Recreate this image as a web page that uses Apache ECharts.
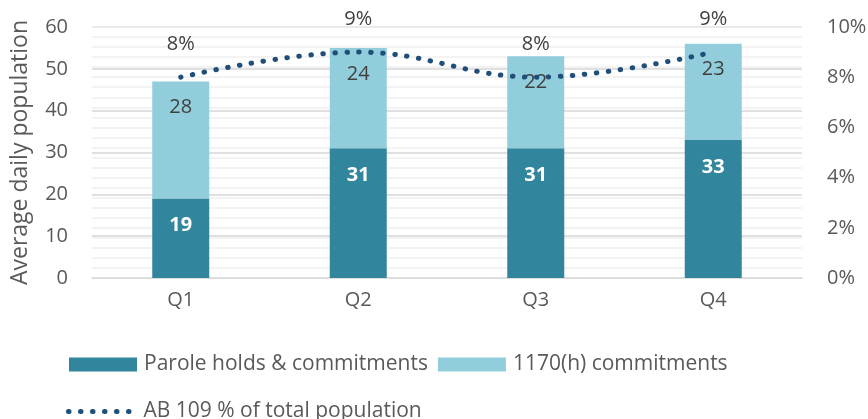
<!DOCTYPE html>
<html>
<head>
<meta charset="utf-8">
<script src="https://cdn.jsdelivr.net/npm/echarts@6/dist/echarts.min.js"></script>
<style>
  html, body { margin: 0; padding: 0; background: #fff; }
  #chart { width: 868px; height: 419px; }
</style>
</head>
<body>
<div id="chart"></div>
<script>
// Quarterly average daily population, stacked by commitment type
const quarters = ['Q1', 'Q2', 'Q3', 'Q4'];
const paroleHolds = [19, 31, 31, 33];
const commitments1170h = [28, 24, 22, 23];
// AB 109 share of total population, in percent
const ab109Share = [8, 9, 8, 9];

const FONT = '"Open Sans", "Liberation Sans", sans-serif';
const TEXT = '#595959';
const LINE_COLOR = '#1F4E79';
const DOTS = { color: LINE_COLOR, width: 5, type: [0.5, 11.5], cap: 'round' };

const chart = echarts.init(document.getElementById('chart'), null, { renderer: 'canvas' });

chart.setOption({
  animation: false,
  textStyle: { fontFamily: FONT },
  grid: { left: 92, right: 66, top: 27, bottom: 141, containLabel: false, outerBoundsMode: 'none' },
  legend: [
    {
      data: ['Parole holds & commitments', '1170(h) commitments'],
      left: 69, top: 354, padding: 0,
      itemWidth: 68, itemHeight: 14, itemGap: 10,
      icon: 'rect',
      textStyle: { color: TEXT, fontSize: 21, fontFamily: FONT, padding: [0, 0, 0, 2] }
    },
    {
      data: ['AB 109 % of total population'],
      left: 66, top: 401, padding: 0,
      itemWidth: 68, itemHeight: 14,
      itemStyle: { opacity: 0 },
      lineStyle: DOTS,
      textStyle: { color: TEXT, fontSize: 21, fontFamily: FONT, padding: [0, 0, 0, 2] }
    }
  ],
  xAxis: {
    type: 'category',
    data: quarters,
    axisLine: { lineStyle: { color: '#d9d9d9', width: 1.5 } },
    axisTick: { show: false },
    axisLabel: { color: TEXT, fontSize: 20, margin: 12, fontFamily: FONT }
  },
  yAxis: [
    {
      type: 'value',
      min: 0, max: 60, interval: 10,
      name: 'Average daily population',
      nameLocation: 'middle',
      nameGap: 60,
      nameRotate: 90,
      nameTextStyle: { color: TEXT, fontSize: 23, fontFamily: FONT },
      axisLine: { show: false },
      axisTick: { show: false },
      axisLabel: { color: TEXT, fontSize: 20, margin: 24, fontFamily: FONT },
      splitLine: { lineStyle: { color: '#d6d6d6', width: 1.5 } }
    },
    {
      type: 'value',
      min: 0, max: 10, interval: 2,
      position: 'right',
      axisLine: { show: false },
      axisTick: { show: false },
      axisLabel: { color: TEXT, fontSize: 20, margin: 25, formatter: '{value}%', fontFamily: FONT },
      splitLine: { show: true, lineStyle: { color: '#eeeeee', width: 1.5 } },
      minorTick: { show: false, splitNumber: 5 },
      minorSplitLine: { show: true, lineStyle: { color: '#f0f0f0', width: 1.5 } }
    }
  ],
  series: [
    {
      name: 'Parole holds & commitments',
      type: 'bar',
      stack: 'pop',
      barWidth: 57,
      data: paroleHolds,
      itemStyle: { color: '#31859C' },
      label: {
        show: true, position: 'insideTop', distance: 17,
        color: '#ffffff', fontWeight: 'bold', fontSize: 20, fontFamily: FONT
      }
    },
    {
      name: '1170(h) commitments',
      type: 'bar',
      stack: 'pop',
      barWidth: 57,
      data: commitments1170h,
      itemStyle: { color: '#92CDDC' },
      label: {
        show: true, position: 'insideTop', distance: 16,
        color: '#404040', fontSize: 20, fontFamily: FONT
      }
    },
    {
      name: 'AB 109 % of total population',
      type: 'line',
      yAxisIndex: 1,
      data: ab109Share,
      smooth: 0.4,
      symbol: 'circle',
      symbolSize: 2,
      showSymbol: true,
      itemStyle: { color: 'rgba(0,0,0,0)' },
      lineStyle: DOTS,
      label: {
        show: true, position: 'top', distance: 22,
        formatter: '{c}%', color: '#404040', fontSize: 20, fontFamily: FONT
      },
      z: 5
    }
  ]
});
</script>
</body>
</html>
